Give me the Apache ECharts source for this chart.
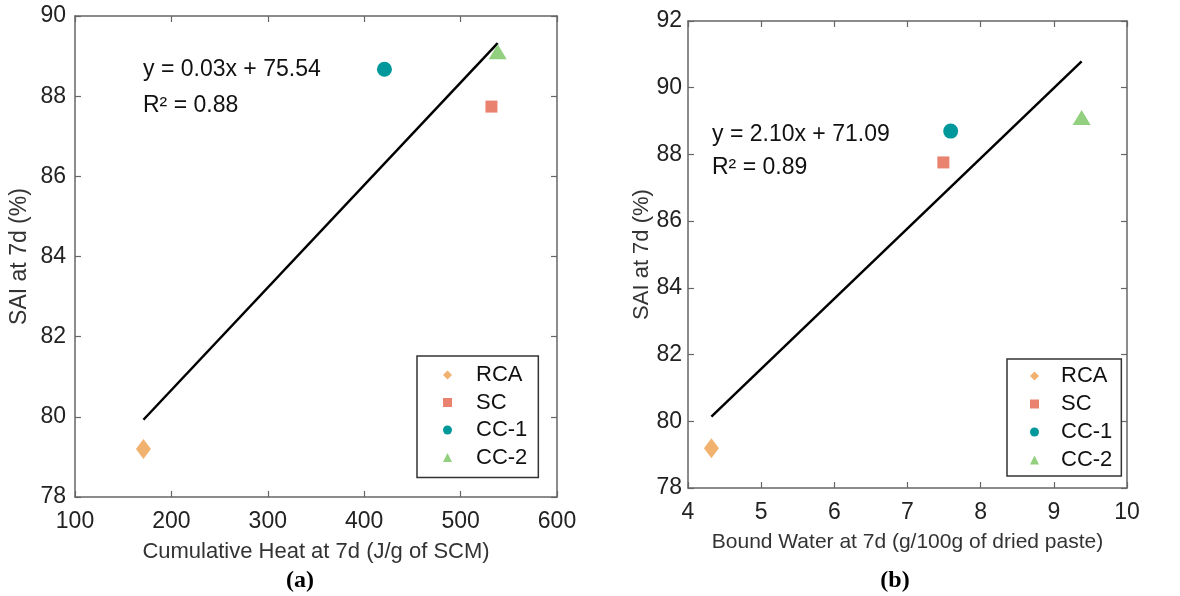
<!DOCTYPE html>
<html><head><meta charset="utf-8">
<script src="https://cdn.jsdelivr.net/npm/echarts@6/dist/echarts.min.js"></script>
<style>html,body{margin:0;padding:0;background:#fff}#c{width:1180px;height:596px}</style>
</head><body><div id="c"></div>
<script>
// ---- data ----
const seriesNames = ['RCA', 'SC', 'CC-1', 'CC-2'];
const heatX = [171, 532, 421, 538.5];          // Cumulative heat at 7d (J/g of SCM)
const saiA  = [79.2, 87.74, 88.67, 89.11];     // SAI at 7d (%) - panel a
const waterX = [4.32, 7.49, 7.59, 9.38];        // Bound water at 7d (g/100g)
const saiB  = [79.19, 87.76, 88.70, 89.11];     // SAI at 7d (%) - panel b
const eqA = ['y = 0.03x + 75.54', 'R\u00B2 = 0.88'];
const eqB = ['y = 2.10x + 71.09', 'R\u00B2 = 0.89'];
const xTitleA = 'Cumulative Heat at 7d (J/g of SCM)';
const xTitleB = 'Bound Water at 7d (g/100g of dried paste)';
const yTitle = 'SAI at 7d (%)';
const panelLabels = ['(a)', '(b)'];

// ---- styles ----
const colors = ['#F1B16F', '#E9826F', '#00989A', '#92CF7F'];
const symbols = ['diamond', 'rect', 'circle', 'triangle'];
const symbolSizes = [[15, 20], 12, 15, [18, 15]];
const FONT = '"Liberation Sans", Arial, Helvetica, sans-serif';
const SERIF = '"Liberation Serif", "Times New Roman", serif';
const axisColor = '#666';

function fit(xs, ys) {
  const n = xs.length;
  const mx = xs.reduce((a, b) => a + b, 0) / n;
  const my = ys.reduce((a, b) => a + b, 0) / n;
  let sxy = 0, sxx = 0;
  for (let i = 0; i < n; i++) { sxy += (xs[i] - mx) * (ys[i] - my); sxx += (xs[i] - mx) ** 2; }
  const k = sxy / sxx, b = my - k * mx;
  const x0 = Math.min(...xs), x1 = Math.max(...xs);
  return [[x0, k * x0 + b], [x1, k * x1 + b]];
}

const chart = echarts.init(document.getElementById('c'), null, { renderer: 'canvas' });

const lineS = { show: true, onZero: false, lineStyle: { color: axisColor, width: 1.5 } };
const tickS = { show: true, inside: true, length: 6, lineStyle: { color: axisColor, width: 1.2 } };

function mainX(gi, min, max, interval, name, gap, nameSize) {
  return {
    gridIndex: gi, type: 'value', min, max, interval, position: 'bottom',
    name, nameLocation: 'middle', nameGap: gap,
    nameTextStyle: { fontFamily: FONT, fontSize: nameSize, color: '#333' },
    axisLine: lineS, axisTick: tickS,
    axisLabel: { fontFamily: FONT, fontSize: 23, color: '#222', margin: 13 },
    splitLine: { show: false }
  };
}
function sideX(gi, min, max, interval) {
  return {
    gridIndex: gi, type: 'value', min, max, interval, position: 'top',
    axisLine: lineS, axisTick: tickS, axisLabel: { show: false }, splitLine: { show: false }
  };
}
function mainY(gi, min, max, interval, gap, margin, nameSize) {
  return {
    gridIndex: gi, type: 'value', min, max, interval, position: 'left',
    name: yTitle, nameLocation: 'middle', nameGap: gap,
    nameTextStyle: { fontFamily: FONT, fontSize: nameSize, color: '#333' },
    axisLine: lineS, axisTick: tickS,
    axisLabel: { fontFamily: FONT, fontSize: 23, color: '#222', margin },
    splitLine: { show: false }
  };
}
function sideY(gi, min, max, interval) {
  return {
    gridIndex: gi, type: 'value', min, max, interval, position: 'right',
    axisLine: lineS, axisTick: tickS, axisLabel: { show: false }, splitLine: { show: false }
  };
}

const series = [];
function addPanel(gi, xs, ys) {
  seriesNames.forEach((nm, i) => {
    series.push({
      type: 'scatter', name: nm, xAxisIndex: gi * 2, yAxisIndex: gi * 2,
      data: [[xs[i], ys[i]]], symbol: symbols[i], symbolSize: symbolSizes[i],
      itemStyle: { color: colors[i], opacity: 1 }, z: 3
    });
  });
  series.push({
    type: 'line', name: 'fit' + gi, xAxisIndex: gi * 2, yAxisIndex: gi * 2,
    data: fit(xs, ys), showSymbol: false, symbol: 'none',
    lineStyle: { color: '#000', width: 2.5 }, z: 2, silent: true
  });
}
addPanel(0, heatX, saiA);
addPanel(1, waterX, saiB);

function legend(left, top, padding, gap, textPad) {
  return {
    data: seriesNames.map(n => ({ name: n })), orient: 'vertical', left, top,
    padding, itemGap: gap, itemWidth: 9, itemHeight: 9,
    borderColor: '#333', borderWidth: 1.5, backgroundColor: '#fff',
    selectedMode: false,
    textStyle: { fontFamily: FONT, fontSize: 22, lineHeight: 22, color: '#111', padding: [0, 0, 0, textPad] }
  };
}

function txt(x, y, s, size) {
  return { type: 'text', left: x, top: y, style: { text: s, fontFamily: FONT, fontSize: size, fill: '#111' } };
}
function panelLabel(cx, y, s) {
  return { type: 'text', x: cx, y: y, style: { text: s, fontFamily: SERIF, fontWeight: 'bold', fontSize: 24, fill: '#000', align: 'center', verticalAlign: 'top' } };
}

chart.setOption({
  animation: false,
  backgroundColor: '#fff',
  grid: [
    { left: 75, top: 16, width: 482, height: 481, containLabel: false },
    { left: 688, top: 21, width: 439, height: 467, containLabel: false }
  ],
  xAxis: [
    mainX(0, 100, 600, 100, xTitleA, 44, 22), sideX(0, 100, 600, 100),
    mainX(1, 4, 10, 1, xTitleB, 44, 21), sideX(1, 4, 10, 1)
  ],
  yAxis: [
    mainY(0, 78, 90, 2, 44, 9, 23), sideY(0, 78, 90, 2),
    mainY(1, 78, 92, 2, 35, 6, 22), sideY(1, 78, 92, 2)
  ],
  legend: [
    legend(417, 356, [8, 11, 9, 26], 5.5, 19),
    legend(1007, 359, [6, 9, 5, 23], 6, 17)
  ],
  series,
  graphic: [
    txt(143, 58, eqA[0], 23), txt(143, 94, eqA[1], 23),
    txt(712, 123, eqB[0], 23), txt(712, 156, eqB[1], 23),
    panelLabel(300, 569, panelLabels[0]),
    panelLabel(895, 569, panelLabels[1])
  ]
});
</script></body></html>
